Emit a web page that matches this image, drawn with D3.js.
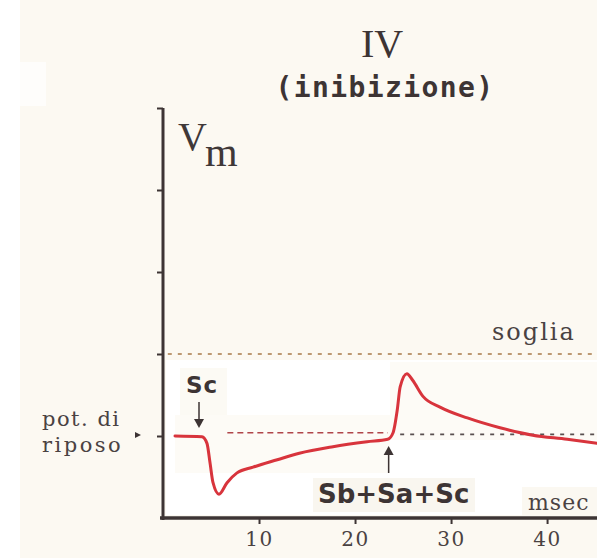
<!DOCTYPE html>
<html>
<head>
<meta charset="utf-8">
<script src="https://cdn.jsdelivr.net/npm/d3@7"></script>
<style>
  html, body { margin: 0; padding: 0; background: #ffffff; }
  svg { display: block; }
</style>
</head>
<body>
<svg id="chart" width="597" height="558"></svg>
<script>
// Membrane potential trace: inhibitory stimulus Sc alone, then Sb+Sa+Sc together
const timeMs   = [1.25, 4.06, 4.58, 4.90, 5.21, 5.83, 6.67, 7.71, 9.38, 11.9, 14.2, 17.7, 21.25, 23.4, 23.96, 24.4, 24.7, 25.4, 26.0, 27.1, 28.9, 31.7, 35.1, 38.5, 42.1, 45.2];
const vmMv     = [-70.0, -70.1, -70.9, -73.3, -75.7, -77.1, -75.7, -74.5, -73.8, -72.9, -72.1, -71.3, -70.7, -70.4, -69.6, -66.8, -64.0, -62.4, -63.2, -65.2, -66.5, -67.8, -69.0, -69.9, -70.4, -70.9];

const yTickValues = [-70, -60, -50, -40, -30];
const xTickValues = [10, 20, 30, 40];
const xTickLabels = ["10", "20", "30", "40"];

const restMv = -69.6;       // resting potential reference line
const thresholdMv = -60;    // soglia
const stimTimes = [3.75, 23.5];
const stimLabels = ["Sc", "Sb+Sa+Sc"];

const svg = d3.select("#chart");
const W = 597, H = 558;

const x = d3.scaleLinear().domain([0, 45.2]).range([163, 597]);
const y = d3.scaleLinear().domain([-80, -30]).range([518, 108]);

const ink = "#3d3434";

// paper
svg.append("rect").attr("x", 0).attr("y", 0).attr("width", W).attr("height", H).attr("fill", "#ffffff");
svg.append("rect").attr("x", 20).attr("y", 0).attr("width", W - 20).attr("height", H).attr("fill", "#fcf9f2");
svg.append("rect").attr("x", 20).attr("y", 62).attr("width", 26).attr("height", 44).attr("fill", "#fefdfb");

// white panels under the trace
const panels = [
  [166, 360, 431, 155, "#ffffff"],
  [180, 368, 47, 47, "#fcfaf4"],
  [175, 415, 215, 58, "#fdfbf6"],
  [390, 362, 207, 78, "#fdfbf6"],
  [313, 478, 162, 34, "#f9f6ef"],
  [522, 487, 75, 29, "#fbf8f1"]
];
svg.selectAll("rect.panel").data(panels).join("rect")
  .attr("class", "panel")
  .attr("x", d => d[0]).attr("y", d => d[1])
  .attr("width", d => d[2]).attr("height", d => d[3])
  .attr("fill", d => d[4]);

// title
svg.append("text").attr("x", 382).attr("y", 57).attr("text-anchor", "middle")
  .attr("font-family", "Liberation Serif, serif").attr("font-size", 40).attr("fill", ink)
  .text("IV");
svg.append("text").attr("x", 385).attr("y", 97).attr("text-anchor", "middle")
  .attr("font-family", "DejaVu Sans Mono, monospace").attr("font-weight", "bold")
  .attr("font-size", 28).attr("letter-spacing", 1.4).attr("fill", ink)
  .text("(inibizione)");

// threshold and resting reference lines
svg.append("line")
  .attr("x1", x(0.5)).attr("x2", x(45.2))
  .attr("y1", y(thresholdMv)).attr("y2", y(thresholdMv))
  .attr("stroke", "#a87a4a").attr("stroke-width", 1.6).attr("stroke-dasharray", "4,6");
svg.append("line")
  .attr("x1", x(6.7)).attr("x2", x(23.4))
  .attr("y1", y(restMv)).attr("y2", y(restMv))
  .attr("stroke", "#b0464a").attr("stroke-width", 1.6).attr("stroke-dasharray", "6,4");
svg.append("line")
  .attr("x1", x(24.7)).attr("x2", x(45.2))
  .attr("y1", y(restMv - 0.2)).attr("y2", y(restMv - 0.2))
  .attr("stroke", "#5a5050").attr("stroke-width", 1.6).attr("stroke-dasharray", "4,6");

// axes
const yAxis = d3.axisLeft(y).tickValues(yTickValues).tickSize(6).tickFormat("");
const gy = svg.append("g").attr("transform", `translate(${x(0)},0)`).call(yAxis);
gy.select(".domain").remove();
gy.selectAll(".tick line").attr("stroke", ink).attr("stroke-width", 2);
svg.append("line").attr("x1", x(0)).attr("x2", x(0)).attr("y1", y(-30)).attr("y2", y(-80) + 2)
  .attr("stroke", ink).attr("stroke-width", 3);

const xAxis = d3.axisBottom(x).tickValues(xTickValues).tickSize(6)
  .tickFormat((d, i) => xTickLabels[i]).tickPadding(8);
const gx = svg.append("g").attr("transform", `translate(0,${y(-80)})`).call(xAxis);
gx.select(".domain").remove();
gx.selectAll(".tick line").attr("stroke", ink).attr("stroke-width", 2);
gx.selectAll(".tick text")
  .attr("font-family", "DejaVu Serif, serif").attr("font-size", 20)
  .attr("fill", "#4a4242").attr("letter-spacing", 1.5);
svg.append("line").attr("x1", x(0) - 3).attr("x2", W).attr("y1", y(-80)).attr("y2", y(-80))
  .attr("stroke", ink).attr("stroke-width", 3.5);

// axis labels
const vm = svg.append("text").attr("x", 178).attr("y", 150)
  .attr("font-family", "Liberation Serif, serif").attr("fill", "#3f3838");
vm.append("tspan").attr("font-size", 40).text("V");
vm.append("tspan").attr("font-size", 42).attr("dy", 16).attr("dx", -2).text("m");

svg.append("text").attr("x", 528).attr("y", 510)
  .attr("font-family", "DejaVu Serif, serif").attr("font-size", 22).attr("letter-spacing", 1)
  .attr("fill", "#4a4242").text("msec");

svg.append("text").attr("x", 492).attr("y", 340)
  .attr("font-family", "DejaVu Serif, serif").attr("font-size", 24).attr("letter-spacing", 2)
  .attr("fill", "#4a4242").text("soglia");

const restLabel = ["pot. di", "riposo"];
svg.selectAll("text.rest").data(restLabel).join("text")
  .attr("class", "rest")
  .attr("x", 42).attr("y", (d, i) => 426 + i * 26)
  .attr("font-family", "DejaVu Serif, serif").attr("font-size", 21)
  .attr("letter-spacing", (d, i) => i ? 2.5 : 1.5)
  .attr("fill", "#4a4242").text(d => d);
svg.append("path")
  .attr("d", `M${x(0) - 28},${y(-70) - 4} L${x(0) - 22},${y(-70) - 1} L${x(0) - 28},${y(-70) + 2} Z`)
  .attr("fill", ink);

// stimulus labels and arrows
svg.append("text").attr("x", x(stimTimes[0]) + 3).attr("y", 393).attr("text-anchor", "middle")
  .attr("font-family", "DejaVu Sans, sans-serif").attr("font-weight", "bold")
  .attr("font-size", 23).attr("letter-spacing", 1).attr("fill", ink).text(stimLabels[0]);
svg.append("line").attr("x1", x(stimTimes[0])).attr("x2", x(stimTimes[0]))
  .attr("y1", 402).attr("y2", 424).attr("stroke", ink).attr("stroke-width", 1.5);
svg.append("path")
  .attr("d", `M${x(stimTimes[0]) - 5},${419} L${x(stimTimes[0]) + 5},${419} L${x(stimTimes[0])},${428} Z`)
  .attr("fill", ink);

svg.append("text").attr("x", 318).attr("y", 503)
  .attr("font-family", "DejaVu Sans, sans-serif").attr("font-weight", "bold")
  .attr("font-size", 26).attr("fill", ink).text(stimLabels[1]);
svg.append("line").attr("x1", x(stimTimes[1])).attr("x2", x(stimTimes[1]))
  .attr("y1", 473).attr("y2", 450).attr("stroke", ink).attr("stroke-width", 1.5);
svg.append("path")
  .attr("d", `M${x(stimTimes[1]) - 5},${455} L${x(stimTimes[1]) + 5},${455} L${x(stimTimes[1])},${446} Z`)
  .attr("fill", ink);

// membrane potential trace
const line = d3.line().x((d, i) => x(timeMs[i])).y(d => y(d)).curve(d3.curveMonotoneX);
svg.append("path").datum(vmMv)
  .attr("d", line)
  .attr("fill", "none").attr("stroke", "#d8343c").attr("stroke-width", 3)
  .attr("stroke-linejoin", "round").attr("stroke-linecap", "round");
</script>
</body>
</html>
